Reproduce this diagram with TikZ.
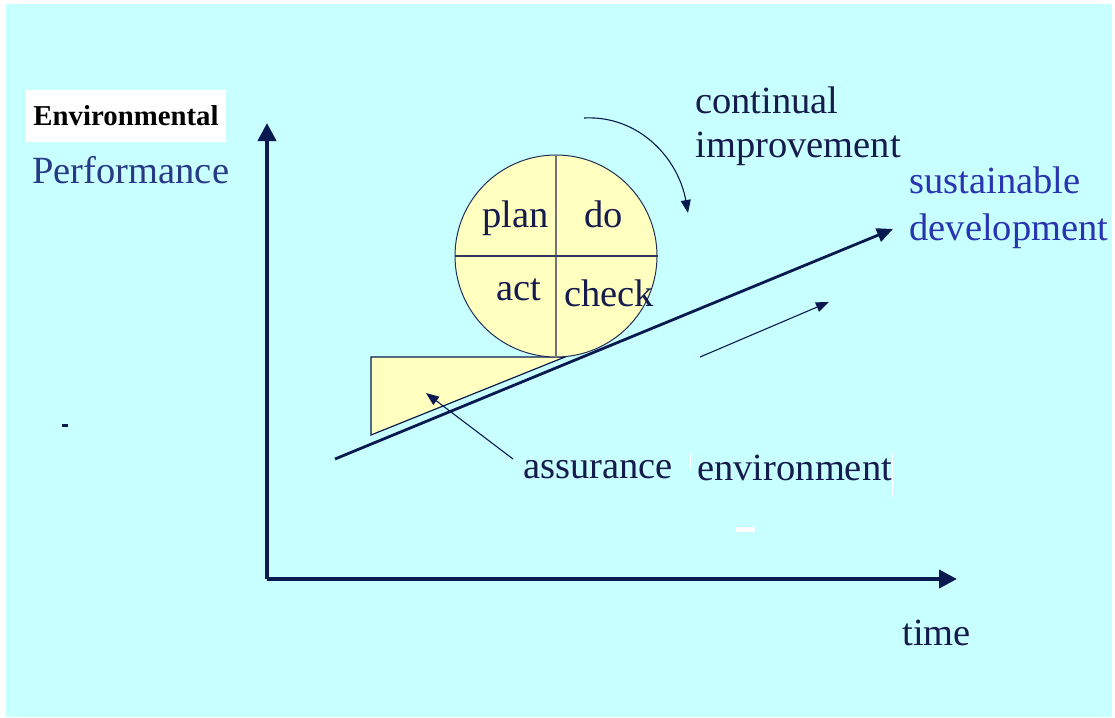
\documentclass[tikz,border=0pt]{standalone}
\usepackage{xcolor}
\usepackage{fontspec}
\setmainfont{Liberation Serif}
\usepackage{tikz}
\usetikzlibrary{
    arrows.meta,
    positioning
}
\definecolor{bgcyan}{HTML}{C8FFFF}
\definecolor{pdcafill}{HTML}{FFFFC0}
\definecolor{axisnavy}{HTML}{0A1A50}
\definecolor{labelnavy}{HTML}{161B4E}
\definecolor{perfblue}{HTML}{283A86}
\definecolor{sustblue}{HTML}{2A33B0}
\tikzset{label/.style={
    font=\fontsize{19.25}{23}\selectfont,
    text=labelnavy,
    inner sep=0pt,
    anchor=base west,
}}
\tikzset{axis/.style={
    -{Triangle[length=9pt,width=9pt]},
    line width=2pt,
    color=axisnavy,
}}
\tikzset{trend/.style={
    -{Triangle[length=8pt,width=7pt]},
    line width=1.4pt,
    color=axisnavy,
}}
\tikzset{thinarrow/.style={
    -{Triangle[length=6.5pt,width=5pt]},
    line width=0.55pt,
    color=axisnavy,
}}
\tikzset{pdca/.style={
    circle,
    draw=axisnavy!80!gray,
    fill=pdcafill,
    line width=0.5pt,
    minimum size=101pt,
    inner sep=0pt,
}}

\begin{document}
\begin{tikzpicture}[
                x=0.5pt, y=-0.5pt
        ]
            % page and background
            \useasboundingbox (0,0) rectangle (1115,718);
            \fill[white] (0,0) rectangle (1115,718);
            \fill[bgcyan] (6,4) rectangle (1112,717);

            % axes
            \coordinate (origin) at (267,579);
            \coordinate (ytip) at (267,123);
            \coordinate (xtip) at (957,579);
            \draw[axis] (origin) -- (ytip);
            \draw[axis] (origin) -- (xtip);

            \node[fill=white, minimum width=100pt, minimum height=26pt, inner sep=0pt,
                  font=\fontsize{14.4}{16}\selectfont\bfseries] (env-title) at (126,116) {Environmental};
            \node[label, text=perfblue] (perf) at (32,183) {Performance};
            \node[label] (time) at (902,645) {time};

            % assurance wedge
            \filldraw[fill=pdcafill, draw=axisnavy, line width=0.6pt]
                (371,357) -- (565,357) -- (371,435) -- cycle;

            % plan do check act
            \node[pdca] (cycle) at (556,256) {};
            \draw[gray!90!black, line width=0.6pt] (cycle.north) -- (cycle.south);
            \draw[axisnavy!70!gray, line width=0.6pt] (cycle.west) -- (cycle.east);
            \node[label] (plan) at (482,227) {plan};
            \node[label] (do) at (584,227) {do};
            \node[label] (act) at (496,300) {act};
            \node[label] (check) at (564,306) {check};

            % trend lines
            \coordinate (trend-start) at (335,459);
            \coordinate (trend-end) at (893,229);
            \draw[trend] (trend-start) -- (trend-end);
            \coordinate (small-start) at (700,357);
            \coordinate (small-end) at (829,302);
            \draw[thinarrow] (small-start) -- (small-end);

            \node[label, text=sustblue] (sust1) at (909,193) {sustainable};
            \node[label, text=sustblue] (sust2) at (909,240) {development};

            \node[label] (cont1) at (695,113) {continual};
            \node[label] (cont2) at (695,157) {improvement};
            \coordinate (curve-start) at (584,118);
            \coordinate (curve-end) at (688,213);
            \draw[thinarrow] (curve-start) to [out=3,in=100] (curve-end);

            \node[label] (assur) at (523,478) {assurance};
            \node[label] (envt) at (697,480) {environment};
            \coordinate (assur-start) at (513,459);
            \coordinate (assur-end) at (426,393);
            \draw[thinarrow] (assur-start) -- (assur-end);

            % stray marks
            \fill[axisnavy] (62,424) rectangle (68,426.5);
            \fill[white] (736,527) rectangle (755,532);
            \fill[white] (670.5,453) rectangle (671.5,465);
            \fill[white] (689.5,453) rectangle (690.5,468);
            \fill[white] (891.5,453) rectangle (892.5,497);

        \end{tikzpicture}
\end{document}
